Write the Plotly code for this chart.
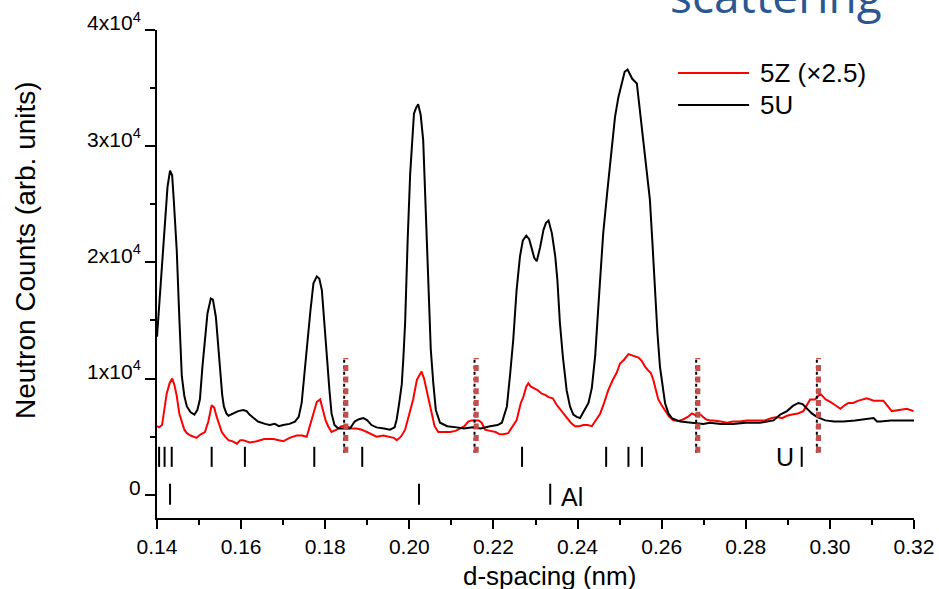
import plotly.graph_objects as go

# ---- measured diffraction patterns -------------------------------------
d_5u = [0.1400, 0.1410, 0.1420, 0.1425, 0.1431, 0.1436, 0.1440, 0.1447, 0.1453, 0.1459,
        0.1465, 0.1471, 0.1480, 0.1489, 0.1496, 0.1502, 0.1508, 0.1514, 0.1520, 0.1528,
        0.1533, 0.1540, 0.1545, 0.1550, 0.1555, 0.1559, 0.1565, 0.1570, 0.1580, 0.1593,
        0.1605, 0.1613, 0.1620, 0.1629, 0.1640, 0.1657, 0.1668, 0.1680, 0.1690, 0.1700,
        0.1715, 0.1728, 0.1737, 0.1744, 0.1750, 0.1756, 0.1765, 0.1772, 0.1780, 0.1786,
        0.1792, 0.1798, 0.1804, 0.1810, 0.1815, 0.1822, 0.1831, 0.1845, 0.1859, 0.1870,
        0.1880, 0.1891, 0.1900, 0.1910, 0.1922, 0.1940, 0.1954, 0.1965, 0.1970, 0.1976,
        0.1982, 0.1986, 0.1990, 0.1996, 0.2002, 0.2011, 0.2016, 0.2021, 0.2027, 0.2033,
        0.2039, 0.2045, 0.2051, 0.2057, 0.2063, 0.2073, 0.2090, 0.2113, 0.2130, 0.2150,
        0.2170, 0.2192, 0.2210, 0.2220, 0.2232, 0.2240, 0.2247, 0.2255, 0.2263, 0.2270,
        0.2278, 0.2285, 0.2291, 0.2297, 0.2303, 0.2311, 0.2319, 0.2325, 0.2331, 0.2339,
        0.2347, 0.2352, 0.2358, 0.2365, 0.2374, 0.2382, 0.2390, 0.2398, 0.2406, 0.2416,
        0.2426, 0.2434, 0.2442, 0.2450, 0.2461, 0.2471, 0.2481, 0.2489, 0.2497, 0.2505,
        0.2512, 0.2519, 0.2525, 0.2530, 0.2541, 0.2548, 0.2557, 0.2565, 0.2572, 0.2578,
        0.2584, 0.2590, 0.2596, 0.2602, 0.2608, 0.2616, 0.2624, 0.2644, 0.2670, 0.2699,
        0.2715, 0.2740, 0.2770, 0.2800, 0.2834, 0.2850, 0.2866, 0.2882, 0.2898, 0.2912,
        0.2925, 0.2935, 0.2945, 0.2957, 0.2969, 0.2989, 0.3010, 0.3032, 0.3060, 0.3090,
        0.3104, 0.3112, 0.3120, 0.3145, 0.3167, 0.3200]
counts_5u = [13600, 18800, 23900, 26500, 27900, 27500, 25300, 21000, 15300, 10200,
             8500, 7600, 7100, 6900, 7300, 8200, 11000, 13600, 15600, 16900,
             16800, 15300, 13000, 10200, 8600, 7600, 7000, 6800, 7000, 7200,
             7300, 7200, 6900, 6600, 6300, 6100, 6000, 6100, 5900, 6000,
             6100, 6300, 6700, 7900, 9900, 12500, 15900, 18200, 18800, 18600,
             17600, 15000, 11900, 9000, 7000, 6000, 5700, 5700, 5700, 6300,
             6500, 6600, 6400, 6000, 5800, 5700, 5600, 5800, 6500, 7900,
             9500, 11900, 14800, 21900, 27600, 32800, 33300, 33600, 32700, 30500,
             24200, 17600, 12500, 9600, 7300, 6200, 5900, 5800, 5700, 5800,
             5700, 5900, 6000, 6200, 7600, 10500, 13300, 17600, 20500, 21900,
             22300, 22000, 21300, 20400, 20100, 21300, 22800, 23400, 23600, 22500,
             20500, 18500, 14800, 11900, 9000, 7600, 6900, 6700, 6600, 7200,
             7900, 9200, 12000, 16500, 22500, 26200, 29500, 32500, 34200, 35500,
             36400, 36600, 36200, 35800, 35400, 33100, 30200, 27800, 25400, 21700,
             17300, 13900, 11000, 9200, 7900, 7000, 6600, 6300, 6200, 6100,
             6200, 6100, 6100, 6200, 6200, 6300, 6400, 6900, 7200, 7650,
             7900, 7800, 7400, 7000, 6700, 6400, 6300, 6300, 6400, 6500,
             6600, 6300, 6300, 6400, 6400, 6400]

d_5z = [0.1400, 0.1405, 0.1412, 0.1418, 0.1423, 0.1430, 0.1436, 0.1441, 0.1447, 0.1453,
        0.1459, 0.1465, 0.1471, 0.1480, 0.1494, 0.1504, 0.1514, 0.1522, 0.1530, 0.1536,
        0.1542, 0.1548, 0.1554, 0.1562, 0.1570, 0.1580, 0.1590, 0.1598, 0.1605, 0.1620,
        0.1637, 0.1655, 0.1677, 0.1700, 0.1715, 0.1732, 0.1745, 0.1756, 0.1765, 0.1772,
        0.1780, 0.1788, 0.1795, 0.1801, 0.1807, 0.1815, 0.1827, 0.1838, 0.1851, 0.1863,
        0.1875, 0.1887, 0.1899, 0.1910, 0.1922, 0.1938, 0.1954, 0.1963, 0.1970, 0.1980,
        0.1990, 0.2000, 0.2009, 0.2018, 0.2029, 0.2035, 0.2041, 0.2047, 0.2053, 0.2060,
        0.2069, 0.2080, 0.2097, 0.2110, 0.2121, 0.2131, 0.2140, 0.2148, 0.2156, 0.2165,
        0.2172, 0.2180, 0.2192, 0.2205, 0.2215, 0.2224, 0.2235, 0.2245, 0.2255, 0.2265,
        0.2271, 0.2278, 0.2283, 0.2289, 0.2295, 0.2305, 0.2315, 0.2323, 0.2331, 0.2341,
        0.2351, 0.2362, 0.2374, 0.2384, 0.2394, 0.2404, 0.2414, 0.2424, 0.2434, 0.2444,
        0.2454, 0.2464, 0.2473, 0.2484, 0.2493, 0.2501, 0.2510, 0.2521, 0.2529, 0.2537,
        0.2545, 0.2553, 0.2561, 0.2568, 0.2574, 0.2580, 0.2586, 0.2592, 0.2600, 0.2608,
        0.2618, 0.2628, 0.2640, 0.2652, 0.2662, 0.2672, 0.2683, 0.2692, 0.2705, 0.2715,
        0.2723, 0.2740, 0.2755, 0.2770, 0.2785, 0.2802, 0.2815, 0.2830, 0.2845, 0.2862,
        0.2875, 0.2886, 0.2898, 0.2910, 0.2924, 0.2937, 0.2945, 0.2953, 0.2965, 0.2977,
        0.2990, 0.3001, 0.3013, 0.3025, 0.3035, 0.3044, 0.3055, 0.3068, 0.3088, 0.3104,
        0.3127, 0.3137, 0.3147, 0.3165, 0.3183, 0.3199]
counts_5z = [5900, 5800, 6000, 7500, 8700, 9600, 10000, 9500, 8500, 7000,
             6200, 5600, 5300, 5100, 4900, 5200, 5400, 6300, 7700, 7500,
             6700, 6000, 5400, 5000, 4700, 4600, 4400, 4700, 4700, 4500,
             4600, 4800, 4800, 4600, 4900, 5100, 5100, 5000, 6200, 7000,
             8000, 8200, 7300, 6400, 5900, 5400, 5600, 5900, 5900, 5700,
             5700, 5600, 5400, 5200, 5000, 5100, 5000, 4900, 4700, 5000,
             5600, 7000, 8200, 9900, 10600, 10000, 9000, 7900, 7000, 5900,
             5400, 5400, 5400, 5500, 5700, 5900, 6300, 6400, 6400, 6400,
             6200, 5600, 5500, 5400, 5200, 5200, 5300, 5900, 6400, 7900,
             8400, 9300, 9600, 9300, 9200, 9000, 8700, 8600, 8400, 8300,
             7700, 7200, 6600, 6200, 5900, 5900, 6000, 6000, 5900, 6400,
             7000, 8000, 9000, 9900, 10500, 11300, 11600, 12100, 12000, 11900,
             11800, 11500, 11000, 10700, 10500, 9900, 9000, 8200, 7700, 7200,
             6700, 6400, 6350, 6500, 6700, 7000, 6800, 6900, 6500, 6400,
             6400, 6300, 6200, 6300, 6300, 6400, 6400, 6400, 6400, 6600,
             6700, 6600, 6800, 6900, 7000, 7200, 7700, 8200, 8200, 8700,
             8200, 8000, 7700, 7400, 7700, 7900, 7900, 8100, 8300, 8100,
             8100, 7600, 7200, 7300, 7400, 7200]

# reflection markers (nm)
u_reflections = [0.1405, 0.1418, 0.1435, 0.1530, 0.1609, 0.1774, 0.1888,
                 0.2268, 0.2468, 0.2521, 0.2553, 0.2933]
al_reflections = [0.1431, 0.2023, 0.2335]
u_row = [2400, 4130]
al_row = [-860, 950]

# guide lines
guide_positions = [0.1849, 0.2159, 0.2686, 0.2973]
guide_span = [3610, 11780]

y_major = [0, 10000, 20000, 30000, 40000]
y_major_text = ["0", "1x10<sup>4</sup>", "2x10<sup>4</sup>", "3x10<sup>4</sup>", "4x10<sup>4</sup>"]
y_minor = [5000, 15000, 25000, 35000]
x_major = [0.14, 0.16, 0.18, 0.20, 0.22, 0.24, 0.26, 0.28, 0.30, 0.32]
x_minor = [0.15, 0.17, 0.19, 0.21, 0.23, 0.25, 0.27, 0.29, 0.31]

FONT = "Liberation Sans, Arial, sans-serif"


def segments(xs, y_pair):
    xx, yy = [], []
    for x in xs:
        xx += [x, x, None]
        yy += [y_pair[0], y_pair[1], None]
    return xx, yy


fig = go.Figure()

fig.add_trace(go.Scatter(x=d_5z, y=counts_5z, mode="lines", name="5Z (×2.5)",
                         line=dict(color="#ff0000", width=2)))
fig.add_trace(go.Scatter(x=d_5u, y=counts_5u, mode="lines", name="5U",
                         line=dict(color="#000000", width=2)))

ux, uy = segments(u_reflections, u_row)
fig.add_trace(go.Scatter(x=ux, y=uy, mode="lines", line=dict(color="black", width=2),
                         hoverinfo="skip"))
ax, ay = segments(al_reflections, al_row)
fig.add_trace(go.Scatter(x=ax, y=ay, mode="lines", line=dict(color="black", width=2),
                         hoverinfo="skip"))

# dotted guides: thin black dots under thick brick-red squares
gx_black, gy_black = segments([g - 0.0004 for g in guide_positions], guide_span)
fig.add_trace(go.Scatter(x=gx_black, y=gy_black, mode="lines",
                         line=dict(color="black", width=2, dash="3px,3px"), hoverinfo="skip"))
gx, gy = segments(guide_positions, guide_span)
fig.add_trace(go.Scatter(x=gx, y=gy, mode="lines",
                         line=dict(color="#c0504d", width=5, dash="6px,5.7px"), hoverinfo="skip"))

# legend drawn by hand
for yp, col in [(0.9119, "#ff0000"), (0.8463, "#000000")]:
    fig.add_shape(type="line", xref="paper", yref="paper", x0=0.6882, x1=0.7821,
                  y0=yp, y1=yp, line=dict(color=col, width=2))
fig.add_annotation(xref="paper", yref="paper", x=0.7939, y=0.9119, xanchor="left",
                   yanchor="middle", text="5Z (×2.5)", showarrow=False,
                   font=dict(family=FONT, size=26, color="black"))
fig.add_annotation(xref="paper", yref="paper", x=0.7939, y=0.8463, xanchor="left",
                   yanchor="middle", text="5U", showarrow=False,
                   font=dict(family=FONT, size=26, color="black"))

fig.add_annotation(x=0.2893, y=3270, xref="x", yref="y", text="U", showarrow=False,
                   xanchor="center", yanchor="middle", font=dict(family=FONT, size=25, color="black"))
fig.add_annotation(x=0.2387, y=-170, xref="x", yref="y", text="Al", showarrow=False,
                   xanchor="center", yanchor="middle", font=dict(family=FONT, size=25, color="black"))

# axis titles
fig.add_annotation(xref="paper", yref="paper", x=0.5185, y=-0.1189, text="d-spacing (nm)",
                   showarrow=False, xanchor="center", yanchor="middle",
                   font=dict(family=FONT, size=26, color="black"))
fig.add_annotation(xref="paper", yref="paper", x=-0.1744, y=0.549,
                   text="Neutron Counts (arb. units)", textangle=-90,
                   showarrow=False, xanchor="center", yanchor="middle",
                   font=dict(family=FONT, size=28, color="black"))

fig.add_annotation(xref="paper", yref="paper", x=0.8177, y=1.004, text="scattering",
                   showarrow=False, xanchor="center", yanchor="bottom",
                   font=dict(family="Open Sans, sans-serif", size=46, color="#2b5790"))

fig.update_layout(
    width=939, height=589,
    margin=dict(l=157, r=25, t=30, b=71, autoexpand=False),
    paper_bgcolor="white", plot_bgcolor="white",
    showlegend=False,
    font=dict(family=FONT, color="black"),
    xaxis=dict(range=[0.14, 0.32], showgrid=False, zeroline=False, automargin=False,
               showline=True, linecolor="black", linewidth=2,
               ticks="outside", ticklen=9, tickwidth=2, tickcolor="black",
               tickmode="array", tickvals=x_major, tickformat=".2f",
               tickfont=dict(family=FONT, size=21, color="black"),
               minor=dict(tickmode="array", tickvals=x_minor, ticks="outside",
                          ticklen=5, tickwidth=2, tickcolor="black", showgrid=False)),
    yaxis=dict(range=[-2000, 40000], showgrid=False, zeroline=False, automargin=False,
               showline=True, linecolor="black", linewidth=2,
               ticks="outside", ticklen=10, tickwidth=2, tickcolor="black",
               tickmode="array", tickvals=y_major, ticktext=y_major_text,
               ticklabelshift=-7,
               tickfont=dict(family=FONT, size=21, color="black"),
               minor=dict(tickmode="array", tickvals=y_minor, ticks="outside",
                          ticklen=5, tickwidth=2, tickcolor="black", showgrid=False)),
)

fig.write_html("out.html")
